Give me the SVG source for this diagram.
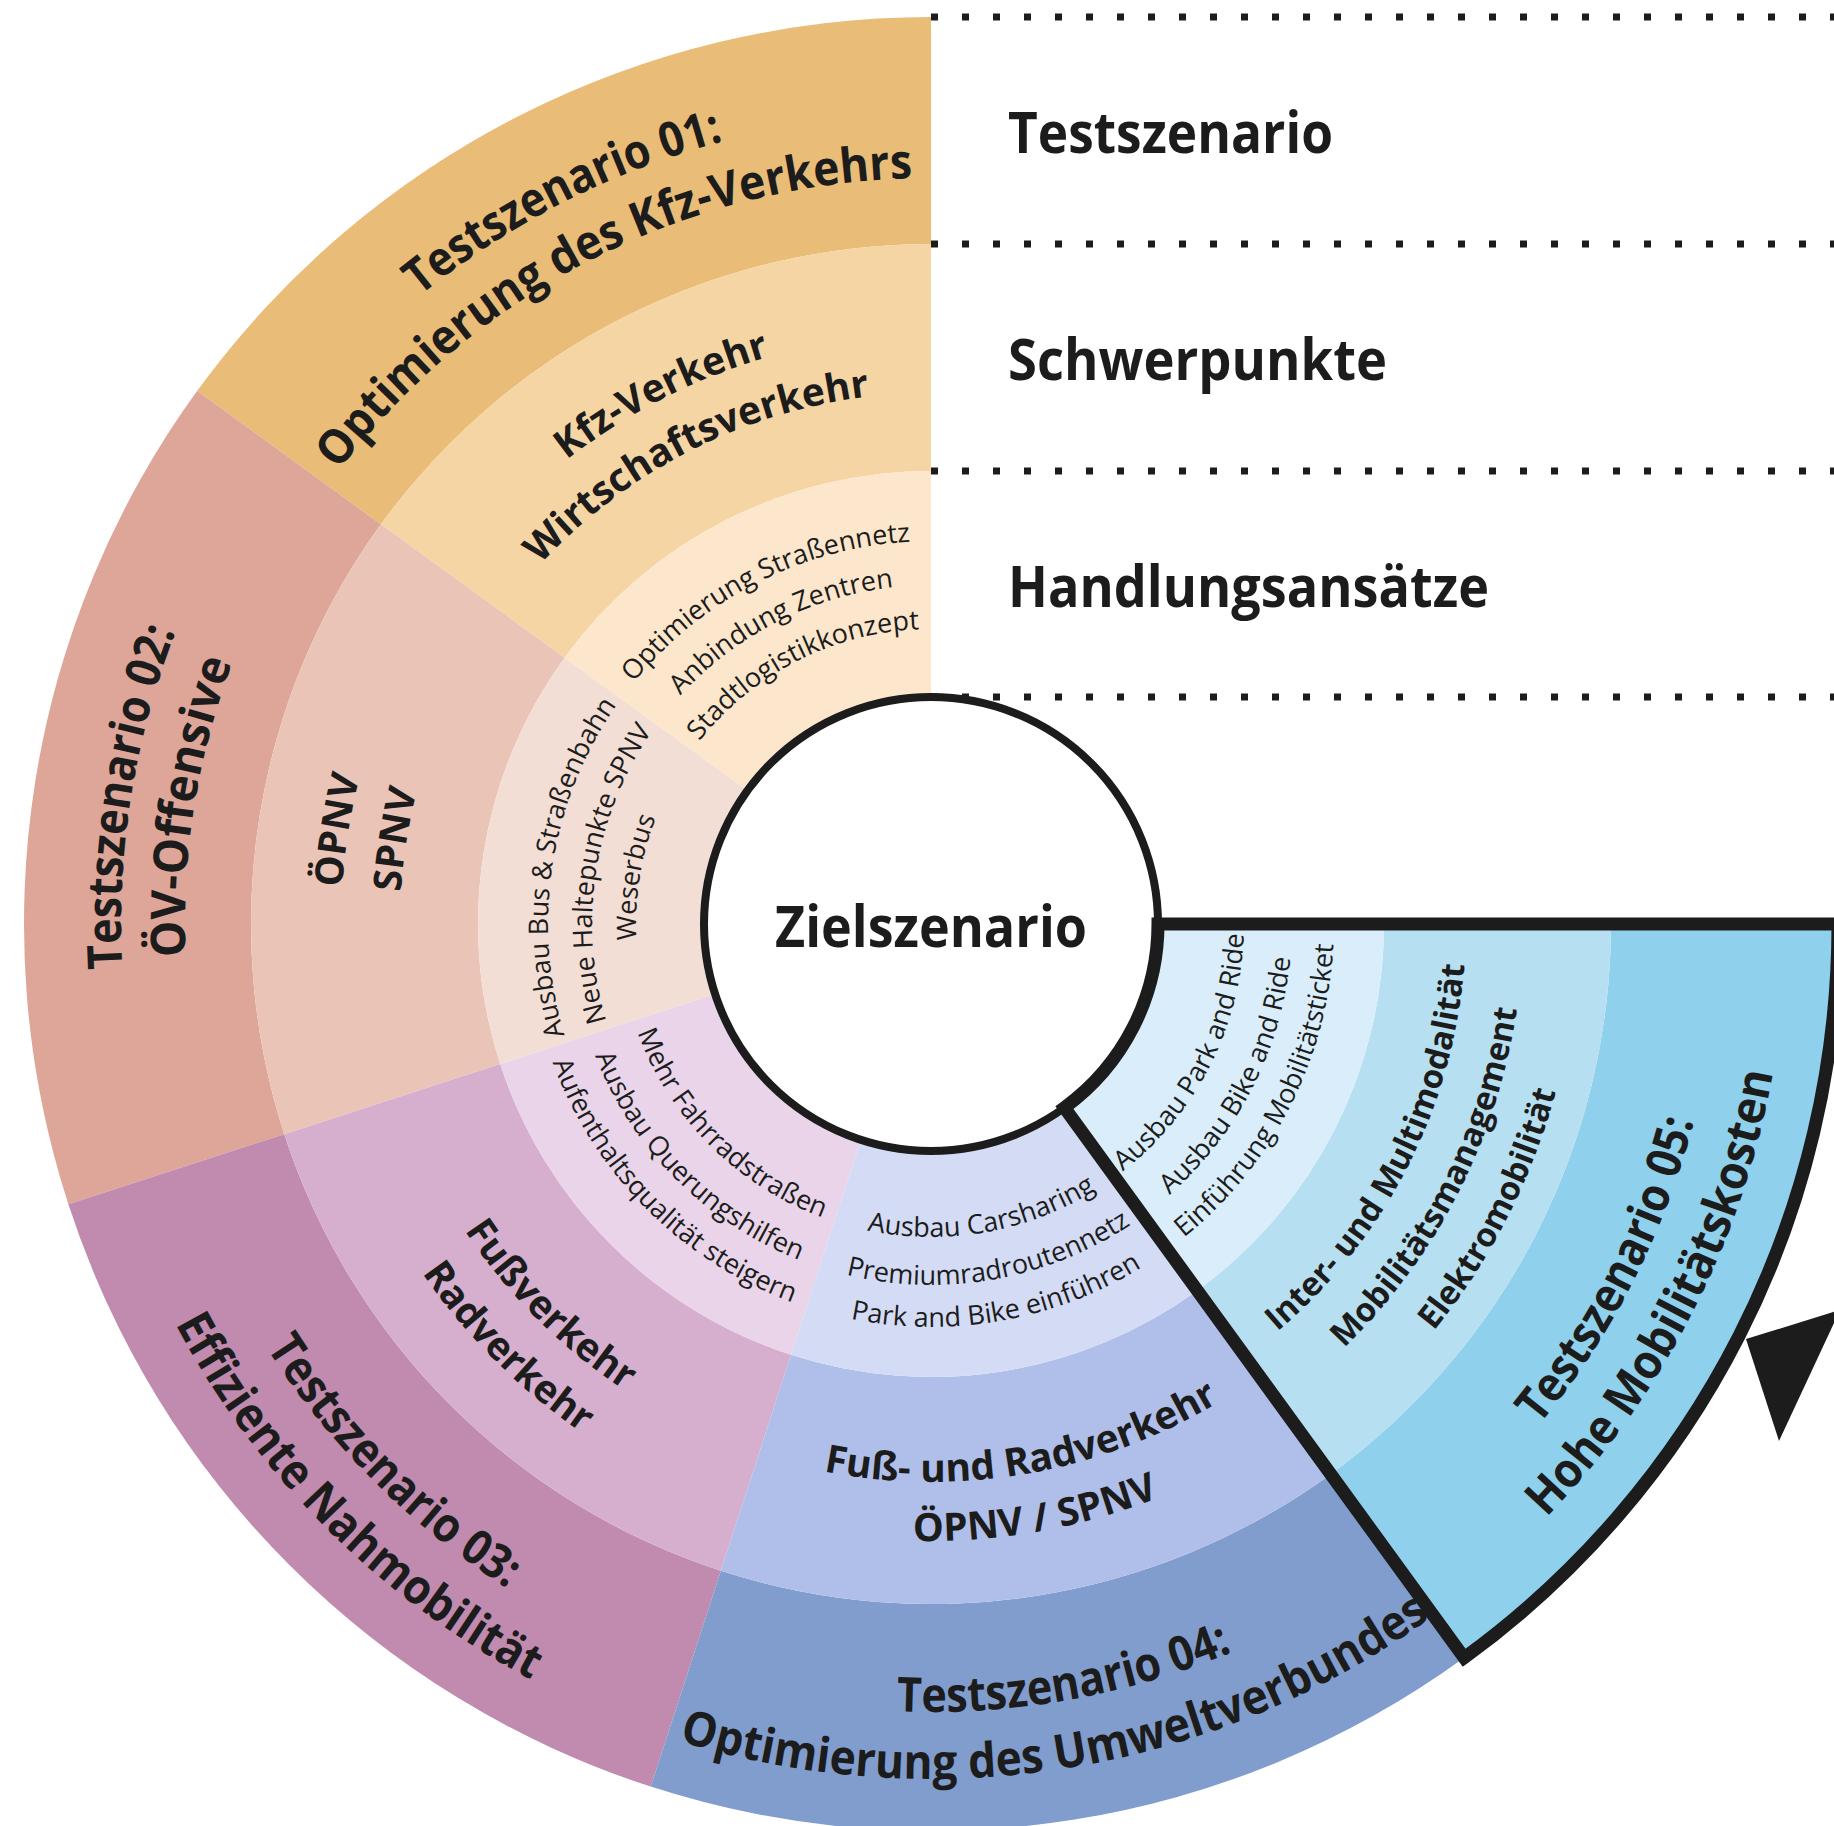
<svg xmlns="http://www.w3.org/2000/svg" width="1834" height="1826" viewBox="0 0 1834 1826">
<style>
text { font-family: 'Open Sans', 'Noto Sans', 'DejaVu Sans', sans-serif; fill: #1b1c1b; text-anchor: middle; }
.tt { font-size: 48px; font-weight: 700; }
.tm { font-size: 39px; font-weight: 700; }
.ts { font-size: 33px; font-weight: 700; }
.ti { font-size: 27px; font-weight: 400; }
.lg { font-size: 58px; font-weight: 700; text-anchor: start; }
.ctr { font-size: 57px; font-weight: 700; }
.dot { stroke: #1b1c1b; stroke-width: 7; stroke-dasharray: 7 24; fill: none; }
.o1 { fill: #E9BC77; } .m1 { fill: #F5D5A4; } .i1 { fill: #FCE6CC; }
.o2 { fill: #DDA699; } .m2 { fill: #EBC4B8; } .i2 { fill: #F3DED6; }
.o3 { fill: #C18BAF; } .m3 { fill: #D7AFCE; } .i3 { fill: #E9D4E9; }
.o4 { fill: #819DCD; } .m4 { fill: #AFBFE9; } .i4 { fill: #D4DBF4; }
.o5 { fill: #8FD0EC; } .m5 { fill: #B6DFF1; } .i5 { fill: #D9EDFA; }
</style>
<defs>
<path id="cw810" d="M-806.91,-70.6 A810,810 0 0 1 806.91,-70.6"/>
<path id="cw746" d="M-743.16,-65.02 A746,746 0 0 1 743.16,-65.02"/>
<path id="cw590" d="M-587.75,-51.42 A590,590 0 0 1 587.75,-51.42"/>
<path id="cw531" d="M-528.98,-46.28 A531,531 0 0 1 528.98,-46.28"/>
<path id="cw383" d="M-381.54,-33.38 A383,383 0 0 1 381.54,-33.38"/>
<path id="cw339" d="M-337.71,-29.55 A339,339 0 0 1 337.71,-29.55"/>
<path id="cw295" d="M-293.88,-25.71 A295,295 0 0 1 293.88,-25.71"/>
<path id="cc788" d="M-785,68.68 A788,788 0 0 0 785,68.68"/>
<path id="cc855" d="M-851.74,74.52 A855,855 0 0 0 851.74,74.52"/>
<path id="cc558" d="M-555.87,48.63 A558,558 0 0 0 555.87,48.63"/>
<path id="cc617" d="M-614.65,53.78 A617,617 0 0 0 614.65,53.78"/>
<path id="cc535" d="M-532.96,46.63 A535,535 0 0 0 532.96,46.63"/>
<path id="cc592" d="M-589.74,51.6 A592,592 0 0 0 589.74,51.6"/>
<path id="cc647" d="M-644.53,56.39 A647,647 0 0 0 644.53,56.39"/>
<path id="cc313" d="M-311.81,27.28 A313,313 0 0 0 311.81,27.28"/>
<path id="cc361" d="M-359.62,31.46 A361,361 0 0 0 359.62,31.46"/>
<path id="cc403" d="M-401.46,35.13 A403,403 0 0 0 401.46,35.13"/>
</defs>
<rect width="1834" height="1826" fill="#ffffff"/>

<g id="legend">
<line class="dot" x1="931" y1="17" x2="1834" y2="17"/>
<line class="dot" x1="931" y1="244" x2="1834" y2="244"/>
<line class="dot" x1="931" y1="471" x2="1834" y2="471"/>
<line class="dot" x1="931" y1="697" x2="1834" y2="697"/>
<text class="lg" x="1008" y="153" textLength="325" lengthAdjust="spacingAndGlyphs">Testszenario</text>
<text class="lg" x="1008" y="380" textLength="379" lengthAdjust="spacingAndGlyphs">Schwerpunkte</text>
<text class="lg" x="1008" y="607" textLength="481" lengthAdjust="spacingAndGlyphs">Handlungsansätze</text>
</g>

<g transform="translate(931,924)">
<g id="scenario01">
<path class="o1" d="M-733.78,-533.13 A907,907 0 0 1 0,-907 L0,-680 A680,680 0 0 0 -550.13,-399.7 Z"/>
<path class="m1" d="M-550.13,-399.7 A680,680 0 0 1 0,-680 L0,-453 A453,453 0 0 0 -366.49,-266.27 Z"/>
<path class="i1" d="M-366.49,-266.27 A453,453 0 0 1 0,-453 L0,-227 A227,227 0 0 0 -183.65,-133.43 Z"/>
<g transform="rotate(-27)">
<text class="tt"><textPath href="#cw810" startOffset="50%" textLength="344" lengthAdjust="spacingAndGlyphs">Testszenario 01:</textPath></text>
<text class="tt"><textPath href="#cw746" startOffset="50%" textLength="666" lengthAdjust="spacingAndGlyphs">Optimierung des Kfz-Verkehrs</textPath></text>
<text class="tm"><textPath href="#cw590" startOffset="50%">Kfz-Verkehr</textPath></text>
<text class="tm"><textPath href="#cw531" startOffset="50%">Wirtschaftsverkehr</textPath></text>
<text class="ti"><textPath href="#cw383" startOffset="50%">Optimierung Straßennetz</textPath></text>
<text class="ti"><textPath href="#cw339" startOffset="50%">Anbindung Zentren</textPath></text>
<text class="ti"><textPath href="#cw295" startOffset="50%">Stadtlogistikkonzept</textPath></text>
</g>
</g>

<g id="scenario02">
<path class="o2" d="M-862.61,280.28 A907,907 0 0 1 -733.78,-533.13 L-550.13,-399.7 A680,680 0 0 0 -646.72,210.13 Z"/>
<path class="m2" d="M-646.72,210.13 A680,680 0 0 1 -550.13,-399.7 L-366.49,-266.27 A453,453 0 0 0 -430.83,139.99 Z"/>
<path class="i2" d="M-430.83,139.99 A453,453 0 0 1 -366.49,-266.27 L-183.65,-133.43 A227,227 0 0 0 -215.89,70.15 Z"/>
<g transform="rotate(-81)">
<text class="tt"><textPath href="#cw810" startOffset="50%" textLength="344" lengthAdjust="spacingAndGlyphs">Testszenario 02:</textPath></text>
<text class="tt"><textPath href="#cw746" startOffset="50%" textLength="300" lengthAdjust="spacingAndGlyphs">ÖV-Offensive</textPath></text>
<text class="tm"><textPath href="#cw590" startOffset="50%">ÖPNV</textPath></text>
<text class="tm"><textPath href="#cw531" startOffset="50%">SPNV</textPath></text>
<text class="ti"><textPath href="#cw383" startOffset="50%">Ausbau Bus &amp; Straßenbahn</textPath></text>
<text class="ti"><textPath href="#cw339" startOffset="50%">Neue Haltepunkte SPNV</textPath></text>
<text class="ti"><textPath href="#cw295" startOffset="50%">Weserbus</textPath></text>
</g>
</g>

<g id="scenario03">
<path class="o3" d="M-280.28,862.61 A907,907 0 0 1 -862.61,280.28 L-646.72,210.13 A680,680 0 0 0 -210.13,646.72 Z"/>
<path class="m3" d="M-210.13,646.72 A680,680 0 0 1 -646.72,210.13 L-430.83,139.99 A453,453 0 0 0 -139.99,430.83 Z"/>
<path class="i3" d="M-139.99,430.83 A453,453 0 0 1 -430.83,139.99 L-215.89,70.15 A227,227 0 0 0 -70.15,215.89 Z"/>
<g transform="rotate(45)">
<text class="tt"><textPath href="#cc788" startOffset="50%" textLength="344" lengthAdjust="spacingAndGlyphs">Testszenario 03:</textPath></text>
<text class="tt"><textPath href="#cc855" startOffset="50%" textLength="511" lengthAdjust="spacingAndGlyphs">Effiziente Nahmobilität</textPath></text>
<text class="tm"><textPath href="#cc558" startOffset="50%">Fußverkehr</textPath></text>
<text class="tm"><textPath href="#cc617" startOffset="50%">Radverkehr</textPath></text>
<text class="ti"><textPath href="#cc313" startOffset="50%">Mehr Fahrradstraßen</textPath></text>
<text class="ti"><textPath href="#cc361" startOffset="50%">Ausbau Querungshilfen</textPath></text>
<text class="ti"><textPath href="#cc403" startOffset="50%">Aufenthaltsqualität steigern</textPath></text>
</g>
</g>

<g id="scenario04">
<path class="o4" d="M533.13,733.78 A907,907 0 0 1 -280.28,862.61 L-210.13,646.72 A680,680 0 0 0 399.7,550.13 Z"/>
<path class="m4" d="M399.7,550.13 A680,680 0 0 1 -210.13,646.72 L-139.99,430.83 A453,453 0 0 0 266.27,366.49 Z"/>
<path class="i4" d="M266.27,366.49 A453,453 0 0 1 -139.99,430.83 L-70.15,215.89 A227,227 0 0 0 133.43,183.65 Z"/>
<g transform="rotate(-10)">
<text class="tt"><textPath href="#cc788" startOffset="50%" textLength="344" lengthAdjust="spacingAndGlyphs">Testszenario 04:</textPath></text>
<text class="tt" transform="rotate(0.7)"><textPath href="#cc855" startOffset="50%" textLength="790" lengthAdjust="spacingAndGlyphs">Optimierung des Umweltverbundes</textPath></text>
<text class="tm"><textPath href="#cc558" startOffset="50%">Fuß- und Radverkehr</textPath></text>
<text class="tm"><textPath href="#cc617" startOffset="50%">ÖPNV / SPNV</textPath></text>
<text class="ti"><textPath href="#cc313" startOffset="50%">Ausbau Carsharing</textPath></text>
<text class="ti"><textPath href="#cc361" startOffset="50%">Premiumradroutennetz</textPath></text>
<text class="ti"><textPath href="#cc403" startOffset="50%">Park and Bike einführen</textPath></text>
</g>
</g>

<g id="center">
<circle cx="0" cy="0" r="227" fill="#ffffff" stroke="#1b1c1b" stroke-width="8"/>
<text class="ctr" x="0" y="23" textLength="312" lengthAdjust="spacingAndGlyphs">Zielszenario</text>
</g>

<g id="scenario05">
<path class="o5" d="M907,0 A907,907 0 0 1 533.13,733.78 L399.7,550.13 A680,680 0 0 0 680,0 Z"/>
<path class="m5" d="M680,0 A680,680 0 0 1 399.7,550.13 L266.27,366.49 A453,453 0 0 0 453,0 Z"/>
<path class="i5" d="M453,0 A453,453 0 0 1 266.27,366.49 L133.43,183.65 A227,227 0 0 0 227,0 Z"/>
<path d="M227,0 L907,0 A907,907 0 0 1 533.13,733.78 L133.43,183.65 A227,227 0 0 0 227,0 Z" fill="none" stroke="#1b1c1b" stroke-width="13" stroke-linejoin="miter"/>
<g transform="rotate(-63)">
<text class="tt"><textPath href="#cc788" startOffset="50%" textLength="344" lengthAdjust="spacingAndGlyphs">Testszenario 05:</textPath></text>
<text class="tt"><textPath href="#cc855" startOffset="50%" textLength="507" lengthAdjust="spacingAndGlyphs">Hohe Mobilitätskosten</textPath></text>
<text class="ts"><textPath href="#cc535" startOffset="50%">Inter- und Multimodalität</textPath></text>
<text class="ts"><textPath href="#cc592" startOffset="50%">Mobilitätsmanagement</textPath></text>
<text class="ts"><textPath href="#cc647" startOffset="50%">Elektromobilität</textPath></text>
<text class="ti"><textPath href="#cc313" startOffset="50%">Ausbau Park and Ride</textPath></text>
<text class="ti"><textPath href="#cc361" startOffset="50%">Ausbau Bike and Ride</textPath></text>
<text class="ti"><textPath href="#cc403" startOffset="50%">Einführung Mobilitätsticket</textPath></text>
</g>
</g>
</g>

<g id="connectors">
<polygon points="1746,1339 1779,1441 1840,1310" fill="#1b1c1b"/>
</g>
</svg>
